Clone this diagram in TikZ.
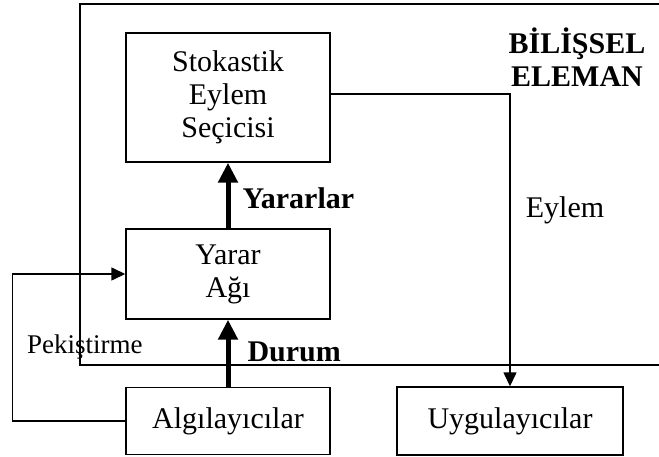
\documentclass[tikz,border=0pt]{standalone}
\usepackage{fontspec}
\setmainfont{Liberation Serif}
\usetikzlibrary{arrows.meta}

\begin{document}
\begin{tikzpicture}[x=1pt, y=-1pt,
  every node/.style={font=\fontsize{30}{33}\selectfont},
  block/.style={draw, line width=1.4pt, inner sep=0pt, align=center},
  flow/.style={line width=1.4pt, -{Triangle[length=14pt, width=13pt]}},
  mainflow/.style={line width=5pt, -{Triangle[length=20pt, width=19pt]}},
  bold/.style={font=\fontsize{30}{33}\selectfont\bfseries}]
  \useasboundingbox (0,0) rectangle (659,457);

  % cognitive element frame (open to the right)
  \draw[line width=1.6pt] (659,4) -- (80,4) -- (80,365) -- (659,365);
  \node[bold, align=center] (title) at (577,57) {BİLİŞSEL\\ELEMAN};

  % blocks
  \node[block, minimum width=204pt, minimum height=129pt] (stok) at (228,97.5)
    {Stokastik\\Eylem\\Seçicisi};
  \node[block, minimum width=204pt, minimum height=90pt] (yarar) at (228,274)
    {Yarar\\Ağı};
  \node[block, minimum width=204pt, minimum height=67pt] (alg) at (228,421)
    {Algılayıcılar};
  \node[block, minimum width=226pt, minimum height=68pt] (uyg) at (510,421)
    {Uygulayıcılar};

  % main signal path
  \draw[mainflow] (alg.north) -- (yarar.south);
  \draw[mainflow] (yarar.north) -- (stok.south);
  \node[bold, anchor=west] (durum) at (244,352) {Durum};
  \node[bold, anchor=west] (yararlar) at (239,198) {Yararlar};

  % action output
  \draw[flow] ([yshift=3.5pt]stok.east) -| (uyg.north);
  \node (eylem) at (565,210) {Eylem};

  % reinforcement feedback
  \draw[flow] (alg.west) -- ++(-113,0) |- (yarar.west);
  \node[anchor=base west, inner sep=0pt, font=\fontsize{27}{30}\selectfont]
    (pek) at (27,353) {Pekiştirme};
\end{tikzpicture}
\end{document}
